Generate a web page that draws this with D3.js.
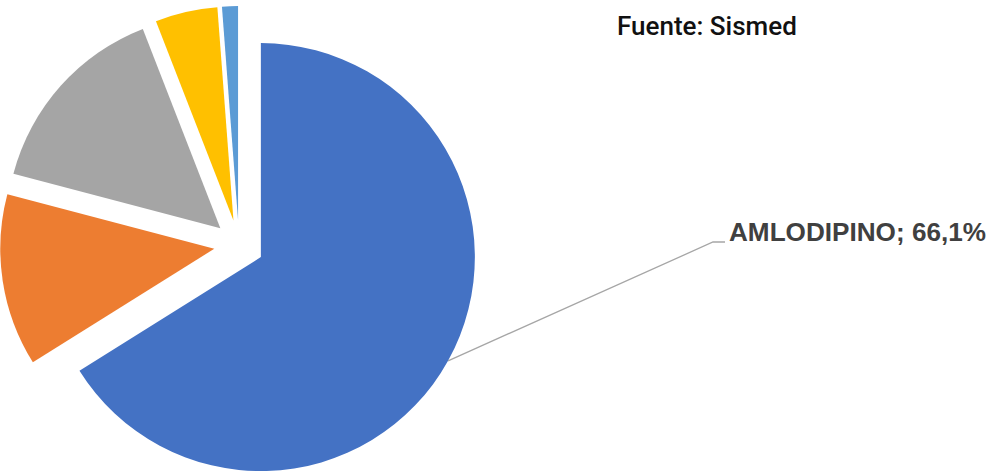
<!DOCTYPE html>
<html>
<head>
<meta charset="utf-8">
<script src="https://cdn.jsdelivr.net/npm/d3@7"></script>
<style>
  body { margin: 0; background: #fff; }
  svg { display: block; }
</style>
</head>
<body>
<svg id="chart" width="993" height="473"></svg>
<script>
// data
const categories = ["AMLODIPINO", "Otro 2", "Otro 3", "Otro 4", "Otro 5"];
const shares = [66.1, 13.0, 15.0, 4.7, 1.2];
const colors = ["#4472C4", "#ED7D31", "#A5A5A5", "#FFC000", "#5B9BD5"];
const labelled = ["AMLODIPINO"];
const source = "Fuente: Sismed";

const width = 993, height = 473;
const cx = 239, cy = 245, radius = 214, explode = 25;

const svg = d3.select("#chart");

const data = categories.map((c, i) => ({name: c, value: shares[i], color: colors[i]}));

const pie = d3.pie().sort(null).value(d => d.value);
const arc = d3.arc().innerRadius(0).outerRadius(radius);
const arcs = pie(data);

const g = svg.append("g").attr("transform", `translate(${cx},${cy})`);

function offset(d) {
    const a = (d.startAngle + d.endAngle) / 2;
    return [explode * Math.sin(a), -explode * Math.cos(a)];
}

g.selectAll("path.slice")
    .data(arcs)
    .enter()
    .append("path")
    .attr("class", "slice")
    .attr("transform", d => `translate(${offset(d)})`)
    .attr("d", arc)
    .attr("fill", d => d.data.color);

// leader line + label for the big slice
const lab = arcs.filter(d => labelled.includes(d.data.name));
lab.forEach(d => {
    const a = (d.startAngle + d.endAngle) / 2;
    const [ox, oy] = offset(d);
    const x0 = ox + radius * Math.sin(a), y0 = oy - radius * Math.cos(a);
    const bx = 713 - cx, by = 242 - cy;
    g.append("polyline")
        .attr("points", [[x0, y0], [bx, by], [bx + 12, by]].map(p => p.join(",")).join(" "))
        .attr("fill", "none")
        .attr("stroke", "#a6a6a6")
        .attr("stroke-width", 1.3);
    g.append("text")
        .attr("x", bx + 16)
        .attr("y", by - 1)
        .attr("font-family", "Liberation Sans, Arial, sans-serif")
        .attr("font-weight", "bold")
        .attr("font-size", 25)
        .attr("textLength", 257)
        .attr("lengthAdjust", "spacingAndGlyphs")
        .attr("fill", "#404040")
        .text(d.data.name + "; " + d.data.value.toFixed(1).replace(".", ",") + "%");
});

svg.append("text")
    .attr("x", 617)
    .attr("y", 35)
    .attr("font-family", "Roboto, sans-serif")
    .attr("font-weight", 500)
    .attr("font-size", 26)
    .attr("fill", "#111")
    .text(source);
</script>
</body>
</html>
